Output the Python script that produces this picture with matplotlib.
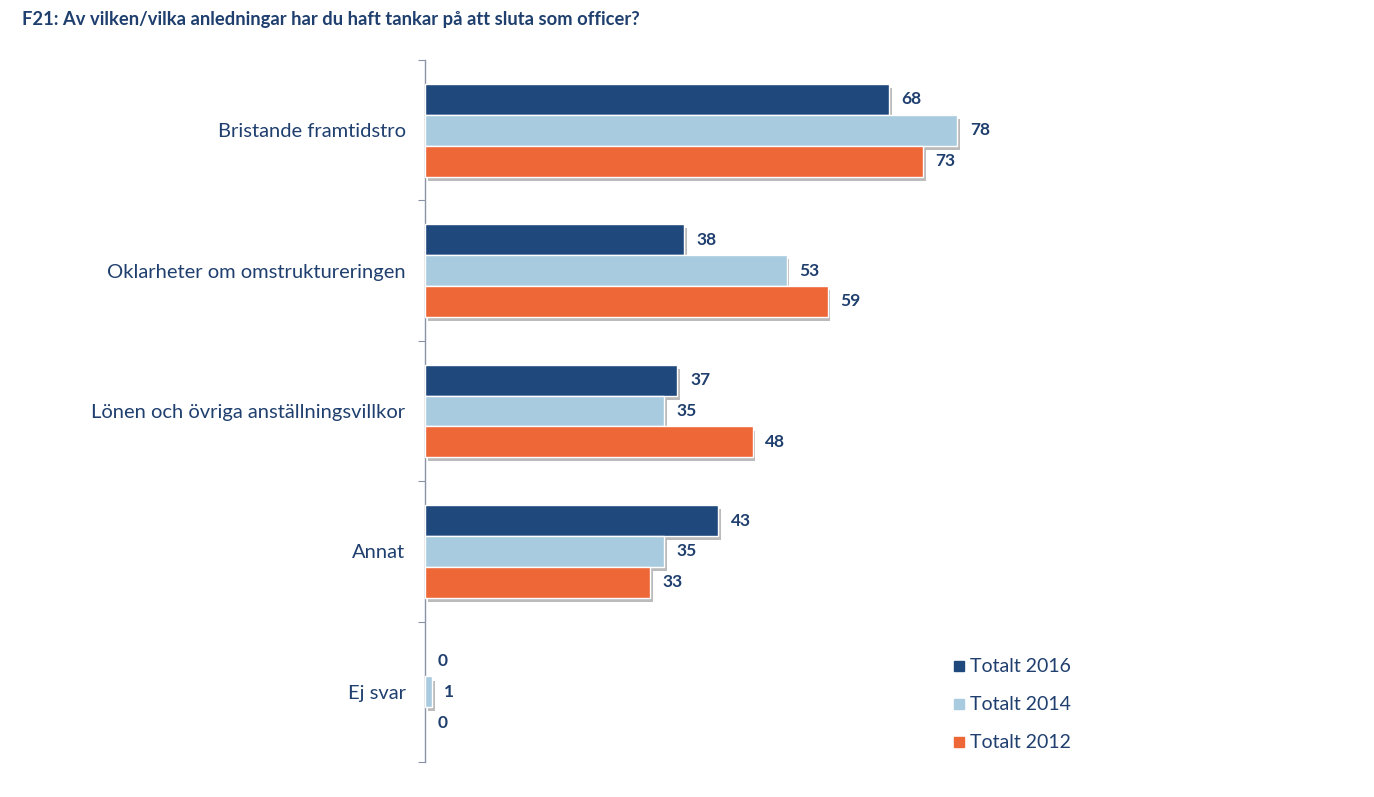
import matplotlib
matplotlib.use("Agg")
import matplotlib.pyplot as plt
import matplotlib.patheffects as pe
import numpy as np

categories = ["Bristande framtidstro", "Oklarheter om omstruktureringen",
              "Lönen och övriga anställningsvillkor", "Annat", "Ej svar"]
series_names = ["Totalt 2016", "Totalt 2014", "Totalt 2012"]
v2016 = [68, 38, 37, 43, 0]
v2014 = [78, 53, 35, 35, 1]
v2012 = [73, 59, 48, 33, 0]
title = "F21: Av vilken/vilka anledningar har du haft tankar på att sluta som officer?"

colors = ["#1F497D", "#A9CBDF", "#EE6737"]
txt = "#1F3F6E"
plt.rcParams['font.family'] = ['Lato', 'DejaVu Sans']

fig = plt.figure(figsize=(13.74, 7.97), dpi=100)
ax = fig.add_axes([425/1374, 1-762/797, 875/1374, 702/797])

n = len(categories)
y = np.arange(n)
bh = 0.22
offsets = [-bh, 0, bh]
for vals, off, col in zip([v2016, v2014, v2012], offsets, colors):
    lw = [1.0 if v > 0 else 0 for v in vals]
    bars = ax.barh(y + off, vals, height=bh, color=col, edgecolor="white", linewidth=lw,
                   zorder=3)
    for b, v in zip(bars, vals):
        if v > 0:
            b.set_path_effects([pe.SimplePatchShadow(offset=(2, -3), shadow_rgbFace="#555555", alpha=0.4), pe.Normal()])
    for yy, v in zip(y + off, vals):
        ax.annotate(str(v), xy=(v, yy), xytext=(9, 0), textcoords="offset points",
                    ha="left", va="center", fontsize=12.5, fontweight="bold", color=txt, zorder=5)

ax.set_xlim(0, 875/6.824)
ax.set_ylim(n - 0.5, -0.5)
ax.set_yticks(np.arange(-0.5, n, 1.0))
ax.set_yticklabels([])
ax.set_yticks(y, minor=True)
ax.set_yticklabels(categories, minor=True, fontsize=14.5, color=txt)
ax.tick_params(axis="y", which="minor", length=0, pad=14)
ax.tick_params(axis="y", which="major", length=5, color="#8A93A8", direction="out")
ax.set_xticks([])
for s in ["top", "right", "bottom"]:
    ax.spines[s].set_visible(False)
ax.spines["left"].set_color("#8A93A8")
ax.spines["left"].set_linewidth(1.0)

# legend
for i, (name, col) in enumerate(zip(series_names, colors)):
    yy = 1 - (666 + 38*i)/797
    fig.patches.append(plt.Rectangle((954/1374, yy - 5/797), 10/1374, 10/797,
                                     transform=fig.transFigure, color=col, figure=fig))
    fig.text(970/1374, yy, name, ha="left", va="center", fontsize=14, color=txt)

fig.text(22/1374, 1 - 19/797, title, ha="left", va="center", fontsize=13.2,
         fontweight="bold", color=txt)

fig.savefig("out.png", dpi=100)
